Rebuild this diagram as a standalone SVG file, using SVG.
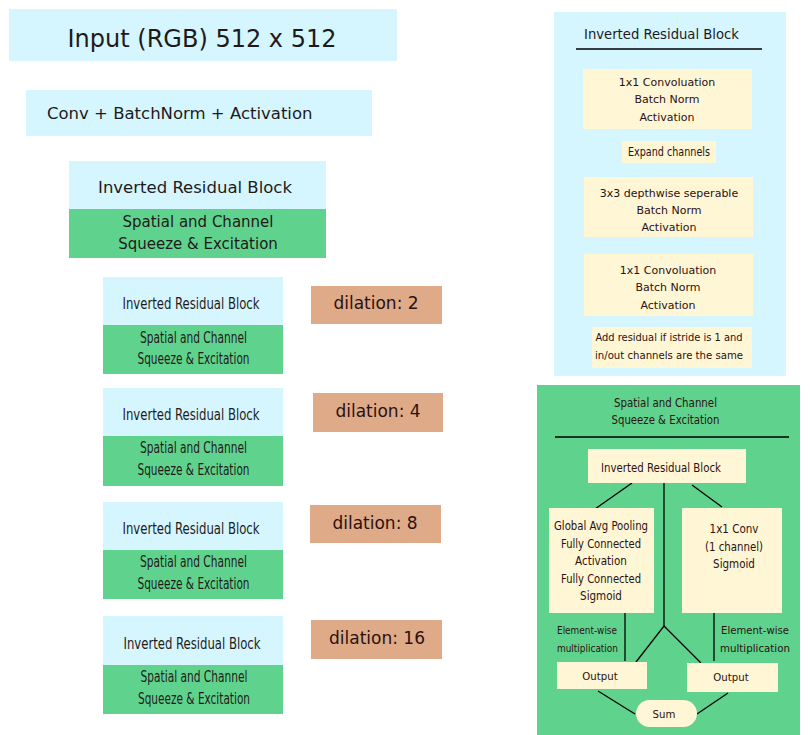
<svg xmlns="http://www.w3.org/2000/svg" width="810" height="735" viewBox="0 0 810 735">
<style>
.blue{fill:#d5f6ff}
.green{fill:#5fd38d}
.cream{fill:#fff6d5}
.dil{fill:#deaa87}
text{font-family:"DejaVu Sans","Verdana",sans-serif;fill:#1f1a1a;text-anchor:middle}
.c{font-family:"DejaVu Sans Condensed","DejaVu Sans",sans-serif}
.br{fill:#2b1111}
.ln{stroke:#000;stroke-width:1.3;fill:none}
</style>
<rect width="810" height="735" fill="#fff"/>

<g id="input">
<rect class="blue" x="9" y="9" width="388" height="52"/>
<text x="202" y="47" font-size="24">Input (RGB) 512 x 512</text>
</g>
<g id="conv">
<rect class="blue" x="26" y="90" width="346" height="46"/>
<text x="47" y="119" font-size="16.5" style="text-anchor:start">Conv + BatchNorm + Activation</text>
</g>
<g id="block0">
<rect class="blue" x="69" y="161" width="257" height="48"/>
<rect class="green" x="69" y="209" width="257" height="49"/>
<text x="195" y="193" font-size="16.5">Inverted Residual Block</text>
<text x="198" y="227" font-size="15">Spatial and Channel</text>
<text x="198" y="249" font-size="15">Squeeze &amp; Excitation</text>
</g>

<g id="block1">
<rect class="blue" x="103" y="277" width="180" height="48"/>
<rect class="green" x="103" y="325" width="180" height="49"/>
<text class="c" x="191" y="309" font-size="16" textLength="137" lengthAdjust="spacingAndGlyphs">Inverted Residual Block</text>
<text class="c" x="193.5" y="343" font-size="15" textLength="107" lengthAdjust="spacingAndGlyphs">Spatial and Channel</text>
<text class="c" x="193.5" y="364" font-size="15" textLength="112" lengthAdjust="spacingAndGlyphs">Squeeze &amp; Excitation</text>
</g>
<g id="dil1">
<rect class="dil" x="311" y="286" width="131" height="38"/>
<text class="br" x="376" y="309" font-size="17">dilation: 2</text>
</g>

<g id="block2">
<rect class="blue" x="103" y="388" width="180" height="48"/>
<rect class="green" x="103" y="436" width="180" height="50"/>
<text class="c" x="191" y="420" font-size="16" textLength="137" lengthAdjust="spacingAndGlyphs">Inverted Residual Block</text>
<text class="c" x="193.5" y="453" font-size="15" textLength="107" lengthAdjust="spacingAndGlyphs">Spatial and Channel</text>
<text class="c" x="193.5" y="475" font-size="15" textLength="112" lengthAdjust="spacingAndGlyphs">Squeeze &amp; Excitation</text>
</g>
<g id="dil2">
<rect class="dil" x="313" y="393" width="130" height="39"/>
<text class="br" x="378" y="417" font-size="17">dilation: 4</text>
</g>

<g id="block3">
<rect class="blue" x="103" y="502" width="180" height="48"/>
<rect class="green" x="103" y="550" width="180" height="49"/>
<text class="c" x="191" y="534" font-size="16" textLength="137" lengthAdjust="spacingAndGlyphs">Inverted Residual Block</text>
<text class="c" x="193.5" y="567" font-size="15" textLength="107" lengthAdjust="spacingAndGlyphs">Spatial and Channel</text>
<text class="c" x="193.5" y="589" font-size="15" textLength="112" lengthAdjust="spacingAndGlyphs">Squeeze &amp; Excitation</text>
</g>
<g id="dil3">
<rect class="dil" x="310" y="505" width="131" height="38"/>
<text class="br" x="375" y="529" font-size="17">dilation: 8</text>
</g>

<g id="block4">
<rect class="blue" x="103" y="616" width="180" height="49"/>
<rect class="green" x="103" y="665" width="180" height="49"/>
<text class="c" x="192" y="649" font-size="16" textLength="137" lengthAdjust="spacingAndGlyphs">Inverted Residual Block</text>
<text class="c" x="194" y="682" font-size="15" textLength="107" lengthAdjust="spacingAndGlyphs">Spatial and Channel</text>
<text class="c" x="194" y="704" font-size="15" textLength="112" lengthAdjust="spacingAndGlyphs">Squeeze &amp; Excitation</text>
</g>
<g id="dil4">
<rect class="dil" x="311" y="620" width="131" height="39"/>
<text class="br" x="377" y="644" font-size="17">dilation: 16</text>
</g>

<g id="irb-panel">
<rect class="blue" x="554" y="12" width="232" height="364"/>
<text class="c" x="661.5" y="39" font-size="14.5" textLength="155" lengthAdjust="spacingAndGlyphs">Inverted Residual Block</text>
<line class="ln" x1="576" y1="49" x2="762" y2="49"/>
<g id="irb-conv1">
<rect class="cream" x="583" y="69" width="169" height="60"/>
<text class="br" x="667" y="86" font-size="11">1x1 Convoluation</text>
<text class="br" x="667" y="103" font-size="11">Batch Norm</text>
<text class="br" x="667" y="121" font-size="11">Activation</text>
</g>
<g id="irb-expand">
<rect class="cream" x="622" y="141" width="94" height="22"/>
<text class="br c" x="669" y="156" font-size="11.5" textLength="82" lengthAdjust="spacingAndGlyphs">Expand channels</text>
</g>
<g id="irb-dw">
<rect class="cream" x="584" y="177" width="169" height="60"/>
<text class="br" x="669" y="197" font-size="11">3x3 depthwise seperable</text>
<text class="br" x="669" y="214" font-size="11">Batch Norm</text>
<text class="br" x="669" y="231" font-size="11">Activation</text>
</g>
<g id="irb-conv2">
<rect class="cream" x="584" y="254" width="169" height="62"/>
<text class="br" x="668" y="274" font-size="11">1x1 Convoluation</text>
<text class="br" x="668" y="291" font-size="11">Batch Norm</text>
<text class="br" x="668" y="309" font-size="11">Activation</text>
</g>
<g id="irb-residual">
<rect class="cream" x="592" y="327" width="160" height="41"/>
<text class="br c" x="669" y="341" font-size="11" textLength="147" lengthAdjust="spacingAndGlyphs">Add residual if istride is 1 and</text>
<text class="br c" x="669" y="359" font-size="11" textLength="148" lengthAdjust="spacingAndGlyphs">in/out channels are the same</text>
</g>
</g>

<g id="se-panel">
<rect class="green" x="537" y="385" width="263" height="350"/>
<text class="br c" x="665.5" y="407" font-size="11.5" textLength="103" lengthAdjust="spacingAndGlyphs">Spatial and Channel</text>
<text class="br c" x="665.5" y="424" font-size="11.5" textLength="108" lengthAdjust="spacingAndGlyphs">Squeeze &amp; Excitation</text>
<line class="ln" x1="555" y1="437" x2="789" y2="437"/>
</g>

<g id="connectors">
<line class="ln" x1="632" y1="483" x2="595" y2="509"/>
<line class="ln" x1="692" y1="485" x2="722" y2="507"/>
<polyline class="ln" points="664,483 664,626"/>
<polyline class="ln" points="636,662 664,626 701,663"/>
<line class="ln" x1="625" y1="613" x2="625" y2="661"/>
<line class="ln" x1="714" y1="613" x2="714" y2="661"/>
<line class="ln" x1="598" y1="691" x2="635" y2="714"/>
<line class="ln" x1="728" y1="693" x2="697" y2="714"/>
</g>

<g id="se-irb">
<rect class="cream" x="588" y="449" width="158" height="34"/>
<text class="br c" x="661" y="472" font-size="11.5" textLength="120" lengthAdjust="spacingAndGlyphs">Inverted Residual Block</text>
</g>
<g id="se-channel">
<rect class="cream" x="549" y="508" width="105" height="105"/>
<text class="br c" x="601" y="530" font-size="11.5" textLength="94" lengthAdjust="spacingAndGlyphs">Global Avg Pooling</text>
<text class="br c" x="601" y="548" font-size="11.5" textLength="80" lengthAdjust="spacingAndGlyphs">Fully Connected</text>
<text class="br c" x="601" y="565" font-size="11.5">Activation</text>
<text class="br c" x="601" y="583" font-size="11.5" textLength="80" lengthAdjust="spacingAndGlyphs">Fully Connected</text>
<text class="br c" x="601" y="600" font-size="11.5">Sigmoid</text>
</g>
<g id="se-spatial">
<rect class="cream" x="682" y="508" width="100" height="105"/>
<text class="br c" x="734" y="533" font-size="11.5">1x1 Conv</text>
<text class="br c" x="734" y="551" font-size="11.5" textLength="58" lengthAdjust="spacingAndGlyphs">(1 channel)</text>
<text class="br c" x="734" y="568" font-size="11.5">Sigmoid</text>
</g>
<g id="labels">
<text class="br c" x="557" y="634" font-size="10" style="text-anchor:start" textLength="60" lengthAdjust="spacingAndGlyphs">Element-wise</text>
<text class="br c" x="557" y="652" font-size="10" style="text-anchor:start" textLength="61" lengthAdjust="spacingAndGlyphs">multiplication</text>
<text class="br c" x="721" y="634" font-size="11.3" style="text-anchor:start" textLength="68" lengthAdjust="spacingAndGlyphs">Element-wise</text>
<text class="br c" x="720" y="652" font-size="11.3" style="text-anchor:start" textLength="70" lengthAdjust="spacingAndGlyphs">multiplication</text>
</g>
<g id="out-left">
<rect class="cream" x="557" y="662" width="90" height="27"/>
<text class="br c" x="600" y="680" font-size="11.3">Output</text>
</g>
<g id="out-right">
<rect class="cream" x="687" y="663" width="91" height="29"/>
<text class="br c" x="731" y="681" font-size="11.3">Output</text>
</g>
<g id="sum">
<rect class="cream" x="636" y="700" width="61" height="27" rx="13.5"/>
<text class="br c" x="664" y="718" font-size="11.3">Sum</text>
</g>
</svg>
